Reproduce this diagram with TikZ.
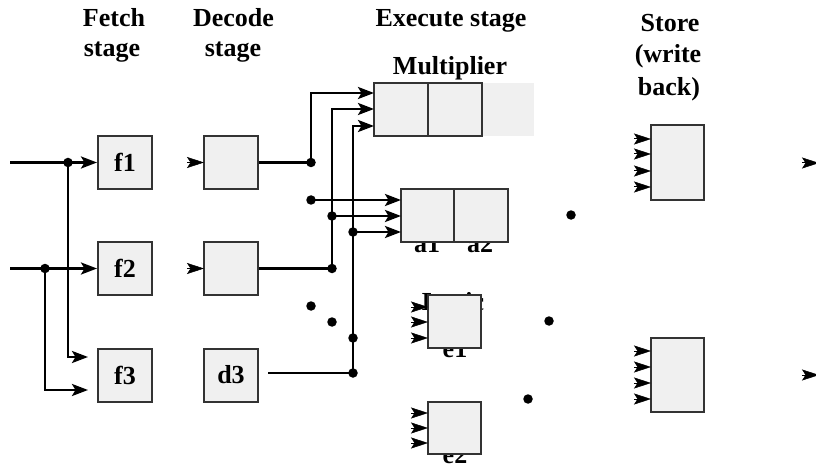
\documentclass[tikz,border=0pt]{standalone}
\usepackage{fontspec}
\setmainfont{Liberation Serif}
\usetikzlibrary{arrows.meta,calc}
\begin{document}
\begin{tikzpicture}[x=1pt,y=-1pt,
  txt/.style={inner sep=0pt,anchor=base,font=\fontsize{26}{30}\selectfont\bfseries},
  stagebox/.style={draw=black!80,line width=2pt,fill=gray!12,inner sep=0pt,
     minimum width=54pt,minimum height=53pt,font=\fontsize{26}{30}\selectfont\bfseries},
  wire/.style={line width=2.6pt},
  arr/.style={wire,-{Stealth[length=16pt,width=12pt,inset=3.5pt]}},
  tip/.style={line width=1pt,-{Stealth[length=17pt,width=11pt,inset=3.5pt,line width=0.5pt]}},
  dot/.style={circle,fill=black,inner sep=0pt,minimum size=9.5pt}]
\useasboundingbox (0,0) rectangle (816,473);
% headers
\node[txt] (h1a) at (114,27) {Fetch};
\node[txt] (h1b) at (112,57) {stage};
\node[txt] (h2a) at (233.5,27) {Decode};
\node[txt] (h2b) at (233,57) {stage};
\node[txt] (h3) at (451,27) {Execute stage};
\node[txt] (hm) at (450,75) {Multiplier};
\node[txt] (h4a) at (670,32) {Store};
\node[txt] (h4b) at (668,63) {(write};
\node[txt] (h4c) at (669,96) {back)};
% labels partly hidden behind boxes
\node[txt] (la1) at (427,252) {a1};
\node[txt] (la2) at (480,252) {a2};
\node[txt] (lloga) at (453,310) {Logic};
\node[txt] (le1) at (455,357) {e1};
\node[txt] (le2) at (455,463) {e2};
% fetch / decode boxes
\node[stagebox] (f1) at (125,162.5) {f1};
\node[stagebox] (f2) at (125,268.5) {f2};
\node[stagebox] (f3) at (125,375) {f3};
\node[stagebox] (d1) at (231,162.5) {};
\node[stagebox] (d2) at (231,268.5) {};
\node[stagebox] (d3) at (231,375) {d3};
% multiplier
\node[stagebox,draw=none,minimum width=53pt] (m3) at (507.5,109.5) {};
\node[stagebox] (m1) at (401,109.5) {};
\node[stagebox] (m2) at (454.5,109.5) {};
% adder
\node[stagebox,minimum width=53pt] (a1) at (427.5,215.5) {};
\node[stagebox] (a2) at (481,215.5) {};
% logic
\node[stagebox,minimum width=53pt] (e1) at (454.5,321.5) {};
\node[stagebox,minimum width=53pt,minimum height=52pt] (e2) at (454.5,428) {};
% store
\node[stagebox,minimum width=53pt,minimum height=75pt] (s1) at (677.5,162.5) {};
\node[stagebox,minimum width=53pt,minimum height=74pt] (s2) at (677.5,375) {};
% fetch inputs
\coordinate (in1) at (10,162.5);
\coordinate (in2) at (10,268.5);
\node[dot] (j1) at (68,162.5) {};
\node[dot] (j2) at (45,268.5) {};
\coordinate (f3u) at (88,357);
\coordinate (f3l) at (88,390);
\draw[arr] (in1) -- (f1.west);
\draw[arr] (in2) -- (f2.west);
\draw[arr] (j1.center) |- (f3u);
\draw[arr] (j2.center) |- (f3l);
% decode -> execute
\node[dot] (jd1) at (311,162.5) {};
\node[dot] (jd2) at (332,268.5) {};
\node[dot] (jd3) at (353,373) {};
\node[dot] (ja1) at (311,200) {};
\node[dot] (ja2) at (332,216) {};
\node[dot] (ja3) at (353,232) {};
\node[dot] (jm) at (353,338) {};
\coordinate (m1i1) at (374,93);
\coordinate (m1i2) at (374,109);
\coordinate (m1i3) at (374,126);
\coordinate (a1i1) at (401,200);
\coordinate (a1i2) at (401,216);
\coordinate (a1i3) at (401,232);
\coordinate (d3o) at (268,373);
\draw[wire] (d1.east) -- (jd1.center);
\draw[arr] (jd1.center) |- (m1i1);
\draw[wire] (d2.east) -- (jd2.center);
\draw[arr] (jd2.center) |- (m1i2);
\draw[wire] (d3o) -- (jd3.center);
\draw[arr] (jd3.center) |- (m1i3);
\draw[arr] (ja1.center) -- (a1i1);
\draw[arr] (ja2.center) -- (a1i2);
\draw[arr] (ja3.center) -- (a1i3);
% isolated dots
\node[dot] (x1) at (311,306) {};
\node[dot] (x2) at (332,322) {};
\node[dot] (x3) at (549,321) {};
\node[dot] (x4) at (528,399) {};
\node[dot] (x5) at (571,215) {};
% tip-only arrows
\foreach \n/\y in {d1/162.5,d2/268.5}{
  \coordinate (t\n) at (204,\y);
  \draw[tip] ($(t\n)+(-17,0)$) -- (t\n);}
\foreach \i/\y in {1/307,2/322,3/338}{
  \coordinate (te1\i) at (428,\y);
  \draw[tip] ($(te1\i)+(-17,0)$) -- (te1\i);}
\foreach \i/\y in {1/413,2/428,3/443}{
  \coordinate (te2\i) at (428,\y);
  \draw[tip] ($(te2\i)+(-17,0)$) -- (te2\i);}
\foreach \i/\y in {1/139,2/154,3/171,4/187}{
  \coordinate (ts1\i) at (651,\y);
  \draw[tip] ($(ts1\i)+(-17,0)$) -- (ts1\i);}
\foreach \i/\y in {1/351,2/367,3/383,4/399}{
  \coordinate (ts2\i) at (651,\y);
  \draw[tip] ($(ts2\i)+(-17,0)$) -- (ts2\i);}
\foreach \i/\y in {1/163,2/375}{
  \coordinate (tr\i) at (819,\y);
  \draw[tip] ($(tr\i)+(-17,0)$) -- (tr\i);}
\end{tikzpicture}
\end{document}
